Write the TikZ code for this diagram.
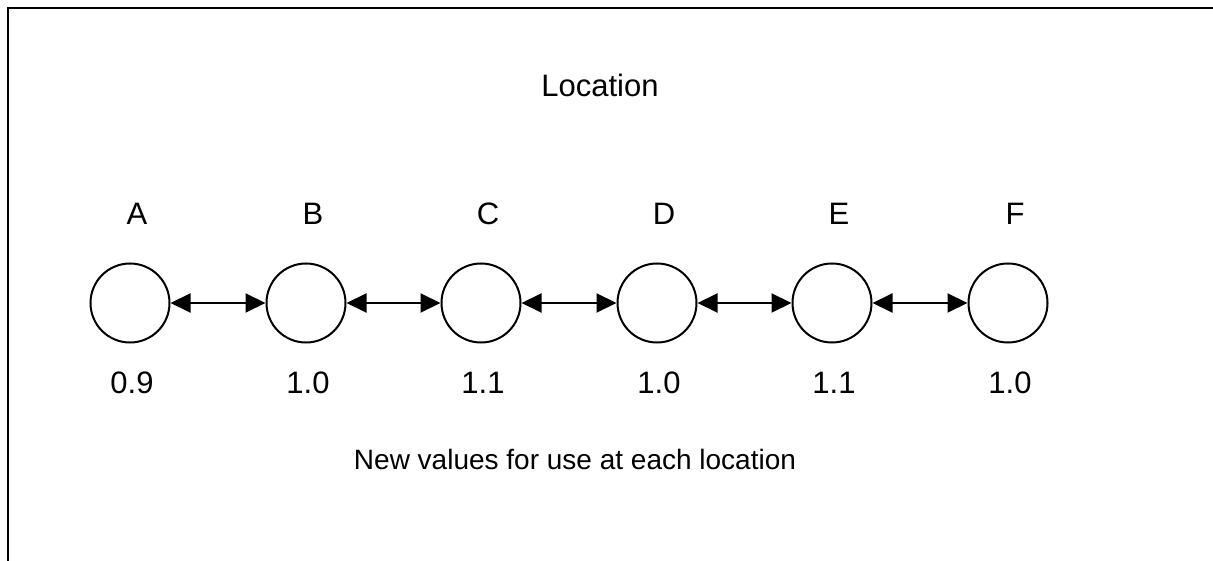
\documentclass[tikz,border=0pt]{standalone}
\usepackage{fontspec}
\setmainfont{Liberation Sans}
\usetikzlibrary{arrows.meta}
\begin{document}
\begin{tikzpicture}[x=1pt,y=-1pt,
  station/.style={circle,draw,line width=2pt,minimum size=79pt,inner sep=0pt},
  link/.style={{Triangle[length=20pt,width=19pt]}-{Triangle[length=20pt,width=19pt]},line width=2pt},
  lbl/.style={font=\fontsize{31}{37}\selectfont,anchor=base,inner sep=0pt},
  note/.style={font=\fontsize{28}{34}\selectfont,anchor=base,inner sep=0pt}]
\useasboundingbox (0,0) rectangle (1213,561);
\clip (0,0) rectangle (1213,561);
% frame: only the top and left edges fall inside the page
\draw[line width=2pt] (8,600) -- (8,8) -- (1250,8);
\node[lbl] (title) at (600,97) {Location};
\foreach \n/\x/\v in {A/130/0.9,B/306/1.0,C/481/1.1,D/657/1.0,E/832/1.1,F/1008/1.0} {
  \node[station] (\n) at (\x,303) {};
  \node[lbl] (name\n) at (\x+7,225) {\n};
  \node[lbl] (val\n) at (\x+2,393) {\v};
}
\foreach \a/\b in {A/B,B/C,C/D,D/E,E/F} \draw[link] (\a) -- (\b);
\node[note] (caption) at (575,469) {New values for use at each location};
\end{tikzpicture}
\end{document}
